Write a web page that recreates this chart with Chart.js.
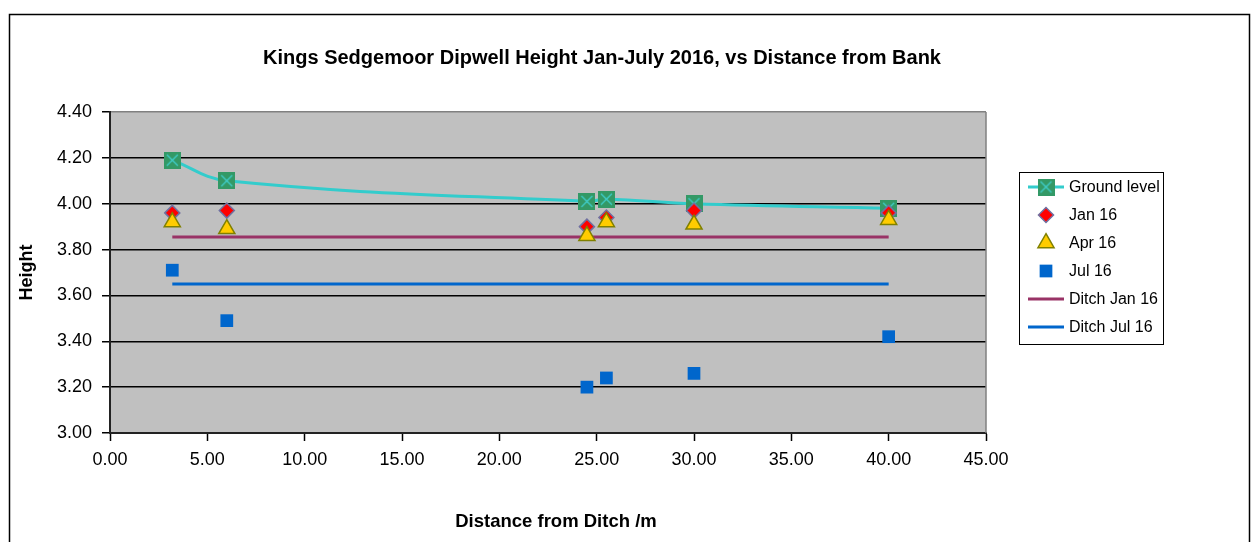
<!DOCTYPE html>
<html>
<head>
<meta charset="utf-8">
<title>Kings Sedgemoor Dipwell Height</title>
<script src="https://cdn.jsdelivr.net/npm/chart.js@4/dist/chart.umd.min.js"></script>
<style>
  html, body { margin: 0; padding: 0; background: #ffffff; }
  #wrap { width: 1253px; height: 542px; position: relative; }
</style>
</head>
<body>
<div id="wrap"><canvas id="c"></canvas></div>
<script>
// ---- data ----
const chartTitle = 'Kings Sedgemoor Dipwell Height Jan-July 2016, vs Distance from Bank';
const xAxisTitle = 'Distance from Ditch /m';
const yAxisTitle = 'Height';

const distances   = [3.2, 6, 24.5, 25.5, 30, 40];
const groundLevel = [4.19, 4.10, 4.01, 4.02, 4.00, 3.98];
const jan16       = [3.96, 3.97, 3.90, 3.94, 3.97, 3.96];
const apr16       = [3.92, 3.89, 3.86, 3.92, 3.91, 3.93];
const jul16       = [3.71, 3.49, 3.20, 3.24, 3.26, 3.42];

const ditchX      = [3.2, 40];
const ditchJan16  = [3.855, 3.855];
const ditchJul16  = [3.65, 3.65];

const xTickValues = [0, 5, 10, 15, 20, 25, 30, 35, 40, 45];
const yTickValues = [3.0, 3.2, 3.4, 3.6, 3.8, 4.0, 4.2, 4.4];

const seriesLabels = ['Ground level', 'Jan 16', 'Apr 16', 'Jul 16', 'Ditch Jan 16', 'Ditch Jul 16'];

// ---- helpers ----
function pairs(xs, ys) { return xs.map((x, i) => ({ x: x, y: ys[i] })); }

// green square marker with a turquoise cross
function groundMarker(size) {
  const c = document.createElement('canvas');
  c.width = size; c.height = size;
  const g = c.getContext('2d');
  g.fillStyle = '#339966';
  g.fillRect(0, 0, size, size);
  g.strokeStyle = '#40D0D0';
  g.lineWidth = 1.2;
  g.beginPath();
  g.moveTo(3, 3); g.lineTo(size - 3, size - 3);
  g.moveTo(size - 3, 3); g.lineTo(3, size - 3);
  g.stroke();
  return c;
}
const groundImg = groundMarker(17);

const FONT = "'Liberation Sans', Arial, Helvetica, sans-serif";

// ---- plugins ----
const frame = {
  id: 'frame',
  beforeDraw(chart) {
    const { ctx, chartArea: a } = chart;
    ctx.save();
    ctx.fillStyle = '#ffffff';
    ctx.fillRect(0, 0, chart.width, chart.height);
    ctx.fillStyle = '#C0C0C0';
    ctx.fillRect(a.left, a.top, a.right - a.left, a.bottom - a.top);
    ctx.restore();
  },
  beforeDatasetsDraw(chart) {
    const { ctx, chartArea: a } = chart;
    ctx.save();
    ctx.strokeStyle = '#808080';
    ctx.lineWidth = 1.5;
    ctx.beginPath();
    ctx.moveTo(a.right, a.top);
    ctx.lineTo(a.right, a.bottom);
    ctx.stroke();
    ctx.restore();
  },
  afterDraw(chart) {
    const ctx = chart.ctx;
    ctx.save();
    // outer border
    ctx.strokeStyle = '#000';
    ctx.lineWidth = 1.5;
    ctx.strokeRect(9.5, 14.5, 1240, 600);
    // chart title
    ctx.fillStyle = '#000';
    ctx.font = 'bold 20px ' + FONT;
    ctx.textAlign = 'center';
    ctx.textBaseline = 'middle';
    ctx.fillText(chartTitle, 602, 58);
    // x axis title
    ctx.font = 'bold 18.5px ' + FONT;
    ctx.fillText(xAxisTitle, 556, 522);
    ctx.restore();
  }
};

const boxLegend = {
  id: 'boxLegend',
  afterDraw(chart) {
    const ctx = chart.ctx;
    const x0 = 1019, y0 = 172, w = 144, h = 172;
    ctx.save();
    ctx.strokeStyle = '#000';
    ctx.lineWidth = 1;
    ctx.strokeRect(x0 + 0.5, y0 + 0.5, w, h);
    ctx.font = '16px ' + FONT;
    ctx.textBaseline = 'middle';
    ctx.textAlign = 'left';
    chart.data.datasets.forEach((ds, i) => {
      const y = y0 + 15 + i * 28;
      const mx = x0 + 27;
      if (ds.showLine) {
        ctx.strokeStyle = ds.borderColor;
        ctx.lineWidth = ds.borderWidth;
        ctx.beginPath();
        ctx.moveTo(x0 + 9, y);
        ctx.lineTo(x0 + 45, y);
        ctx.stroke();
      }
      if (ds.pointRadius > 0) {
        ctx.fillStyle = ds.pointBackgroundColor;
        ctx.strokeStyle = ds.pointBorderColor;
        ctx.lineWidth = ds.pointBorderWidth || 0;
        Chart.helpers.drawPoint(ctx, {
          pointStyle: ds.pointStyle,
          rotation: 0,
          radius: ds.pointRadius,
          borderWidth: ds.pointBorderWidth || 0
        }, mx, y);
      }
      ctx.fillStyle = '#000';
      ctx.fillText(ds.label, x0 + 50, y + 1);
    });
    ctx.restore();
  }
};

// ---- chart ----
new Chart(document.getElementById('c'), {
  type: 'scatter',
  data: {
    datasets: [
      {
        label: seriesLabels[0],
        data: pairs(distances, groundLevel),
        showLine: true,
        tension: 0.4,
        borderColor: '#33CCCC',
        borderWidth: 3,
        pointStyle: groundImg,
        pointRadius: 9,
        pointBackgroundColor: '#339966',
        pointBorderColor: '#339966',
        pointBorderWidth: 0,
        order: 4
      },
      {
        label: seriesLabels[1],
        data: pairs(distances, jan16),
        showLine: false,
        pointStyle: 'rectRot',
        pointRadius: 7.5,
        pointBackgroundColor: '#FF0000',
        pointBorderColor: '#7070A0',
        pointBorderWidth: 1.5,
        order: 3
      },
      {
        label: seriesLabels[2],
        data: pairs(distances, apr16),
        showLine: false,
        pointStyle: 'triangle',
        pointRadius: 9.3,
        pointBackgroundColor: '#FFCC00',
        pointBorderColor: '#808000',
        pointBorderWidth: 1.5,
        order: 2
      },
      {
        label: seriesLabels[3],
        data: pairs(distances, jul16),
        showLine: false,
        pointStyle: 'rect',
        pointRadius: 9,
        pointBackgroundColor: '#0066CC',
        pointBorderColor: '#0066CC',
        pointBorderWidth: 0,
        order: 1
      },
      {
        label: seriesLabels[4],
        data: pairs(ditchX, ditchJan16),
        showLine: true,
        borderColor: '#993366',
        borderWidth: 3,
        pointRadius: 0,
        order: 6
      },
      {
        label: seriesLabels[5],
        data: pairs(ditchX, ditchJul16),
        showLine: true,
        borderColor: '#0066CC',
        borderWidth: 3,
        pointRadius: 0,
        order: 5
      }
    ]
  },
  options: {
    responsive: true,
    maintainAspectRatio: false,
    animation: false,
    layout: { padding: { left: 0, top: 112, right: 267, bottom: 0 } },
    plugins: {
      legend: { display: false },
      title: { display: false },
      tooltip: { enabled: false }
    },
    elements: { point: { hoverRadius: 9 } },
    scales: {
      x: {
        type: 'linear',
        min: 0,
        max: 45,
        afterBuildTicks(scale) { scale.ticks = xTickValues.map(v => ({ value: v })); },
        afterFit(scale) { scale.height = 109; },
        ticks: {
          color: '#000',
          font: { family: FONT, size: 18 },
          padding: 8,
          maxRotation: 0,
          autoSkip: false,
          callback: v => Number(v).toFixed(2)
        },
        grid: {
          drawOnChartArea: false,
          drawTicks: true,
          tickLength: 8,
          tickColor: '#000',
          tickWidth: 1.5
        },
        border: { color: '#222', width: 2 },
        title: { display: false }
      },
      y: {
        type: 'linear',
        min: 3.0,
        max: 4.4,
        afterBuildTicks(scale) { scale.ticks = yTickValues.map(v => ({ value: v })); },
        afterFit(scale) { scale.width = 110; },
        ticks: {
          color: '#000',
          font: { family: FONT, size: 18 },
          padding: 10,
          autoSkip: false,
          callback: v => Number(v).toFixed(2)
        },
        grid: {
          color: ctx => (ctx.index === yTickValues.length - 1 ? '#808080' : '#000'),
          lineWidth: 1.5,
          drawTicks: true,
          tickLength: 8,
          tickColor: '#000',
          tickWidth: 1.5
        },
        border: { color: '#222', width: 2 },
        title: {
          display: true,
          text: yAxisTitle,
          color: '#000',
          font: { family: FONT, size: 18, weight: 'bold' },
          padding: { top: 16, bottom: 0 }
        }
      }
    }
  },
  plugins: [frame, boxLegend]
});
</script>
</body>
</html>
